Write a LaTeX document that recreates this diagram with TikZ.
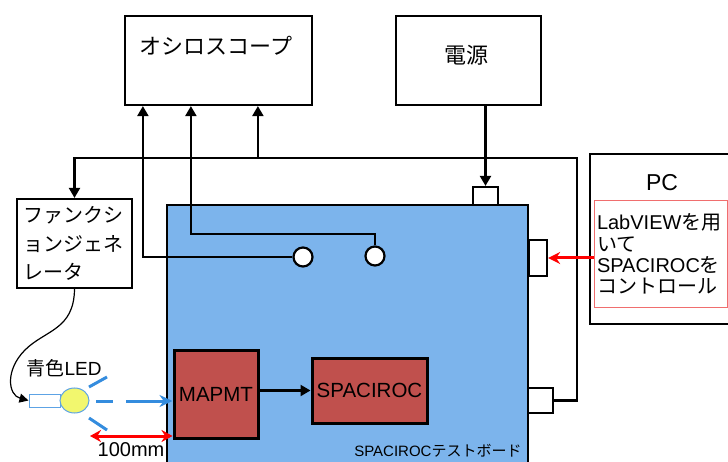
\documentclass[tikz,border=0pt]{standalone}
\usepackage{fontspec}
\setmainfont{Liberation Sans}
\newfontfamily\jp{Noto Sans CJK JP}
\usepackage{xcolor}
\usetikzlibrary{calc,arrows.meta,positioning,shapes.geometric}

\definecolor{boardblue}{RGB}{124,180,236}
\definecolor{chipred}{RGB}{192,80,77}
\definecolor{ledyellow}{RGB}{242,247,110}
\definecolor{rayblue}{RGB}{52,140,222}
\definecolor{swred}{RGB}{240,110,110}

\begin{document}
\begin{tikzpicture}[x=1pt, y=-1pt, >={Triangle[length=10pt,width=11pt]}, line width=2.2pt,
    box/.style={draw, rectangle, inner sep=0pt},
    chip/.style={box, fill=chipred, line width=3pt, font=\fontsize{20.5}{22}\selectfont},
    port/.style={box, fill=white},
    hole/.style={draw, circle, fill=white, minimum size=19pt, inner sep=0pt},
    redarr/.style={red, line width=3pt, -{Stealth[length=12pt,width=12pt]}},
    ray/.style={rayblue, line width=3pt}]
    			\useasboundingbox (0,0) rectangle (728,462);
    			
    			% Instruments
    			\node[box, minimum width=187pt, minimum height=89pt] (osc) at (218.5,60.5) {};
    			\node[font=\jp\fontsize{22}{24}\selectfont] (osclbl) at (216,46) {オシロスコープ};
    			\node[box, minimum width=145pt, minimum height=89pt] (pwr) at (468.5,60.5) {};
    			\node[font=\jp\fontsize{22}{24}\selectfont] (pwrlbl) at (466,55) {電源};
    			\node[box, minimum width=115pt, minimum height=89pt, text width=102pt, align=left,
    			      font=\jp\fontsize{20}{28.5}\selectfont] (fg) at (74.5,243.5) {ファンクシ\\ョンジェネ\\レータ};
    			
    			% PC
    			\node[box, minimum width=150pt, minimum height=170pt, anchor=north west] (pc) at (589,153) {};
    			\node[font=\fontsize{23}{25}\selectfont] (pclbl) at (662,183) {PC};
    			\node[draw=swred, line width=1pt, inner sep=0pt, minimum width=133pt, minimum height=107pt,
    			      text width=128pt, align=left, anchor=north west, font=\fontsize{20}{21.3}\selectfont] (pcsw) at (594,200)
    			      {LabVIEW{\jp を用}\\{\jp いて}\\SPACIROC{\jp を}\\{\jp コントロール}};
    			
    			% Test board
    			\node[box, fill=boardblue, minimum width=361pt, minimum height=265pt] (board) at (347.5,337.5) {};
    			\node[font=\fontsize{15}{16}\selectfont, anchor=east] (boardlbl) at (526,451) {SPACIROC{\jp テストボード}};
    			\node[port, minimum width=25pt, minimum height=18pt] (pwrcon) at (485.5,196) {};
    			\node[port, minimum width=18pt, minimum height=36pt] (pccon) at (538,258) {};
    			\node[port, minimum width=25pt, minimum height=25pt] (outcon) at (540.5,400.5) {};
    			
    			% Trigger line to the function generator
    			\coordinate (tr) at (577,158);
    			\draw[->] (outcon.east) -| (tr) -| (fg.north);
    			
    			% Probes to the oscilloscope
    			\node[hole] (c1) at (303,257) {};
    			\node[hole] (c2) at (375,256) {};
    			\coordinate (p1) at ([xshift=19pt]osc.south west);
    			\coordinate (p2) at ([xshift=67pt]osc.south west);
    			\coordinate (p3) at ([xshift=134pt]osc.south west);
    			\draw[->] (c1.west) -| (p1);
    			\draw[->] (c2.north) -- ++(0,-11.5) -| (p2);
    			\draw[->] (p3 |- tr) -- (p3);
    			
    			% Power and control
    			\draw[->] (pwrcon.north |- pwr.south) -- (pwrcon.north);
    			\draw[redarr] (pccon.east -| pcsw.west) -- (pccon.east);
    			
    			% Chips
    			\node[chip, minimum width=84pt, minimum height=88pt] (mapmt) at (216,394) {MAPMT};
    			\node[chip, minimum width=115pt, minimum height=65pt] (spac) at (369.5,390.5) {SPACIROC};
    			\draw[->] (mapmt.east |- spac.west) -- (spac.west);
    			
    			% LED
    			\node[draw=rayblue!80, line width=1pt, fill=white, minimum width=31pt, minimum height=13pt, inner sep=0pt] (ledbase) at (44.5,400.5) {};
    			\node[ellipse, draw=rayblue!80, line width=1pt, fill=ledyellow, minimum width=29pt, minimum height=25pt, inner sep=0pt] (ledbulb) at (74.5,400.5) {};
    			\node[font=\fontsize{19}{20}\selectfont] (ledlbl) at (64,368) {{\jp 青色}LED};
    			\draw[line width=1.2pt, -{Triangle[length=9pt,width=9pt]}] (fg.south) .. controls (74,330) and (45,330) .. (25,350)
    			      .. controls (5,370) and (8,395) .. (ledbase.west);
    			
    			% Light rays
    			\draw[ray] (89,387) -- (107,377);
    			\draw[ray] (89,418) -- (107,430);
    			\draw[ray] (96,401) -- (113,401);
    			\draw[ray, -{Stealth[length=13pt,width=12pt]}] (126,401) -- ([yshift=-7pt]mapmt.west);
    			
    			% Distance
    			\coordinate (m0) at (90,436);
    			\draw[red, line width=3pt, {Stealth[length=11pt,width=12pt]}-{Stealth[length=11pt,width=12pt]}] (m0) -- (m0 -| mapmt.west);
    			\node[font=\fontsize{20}{22}\selectfont] (dist) at (131,450) {100mm};
    		\end{tikzpicture}
\end{document}
